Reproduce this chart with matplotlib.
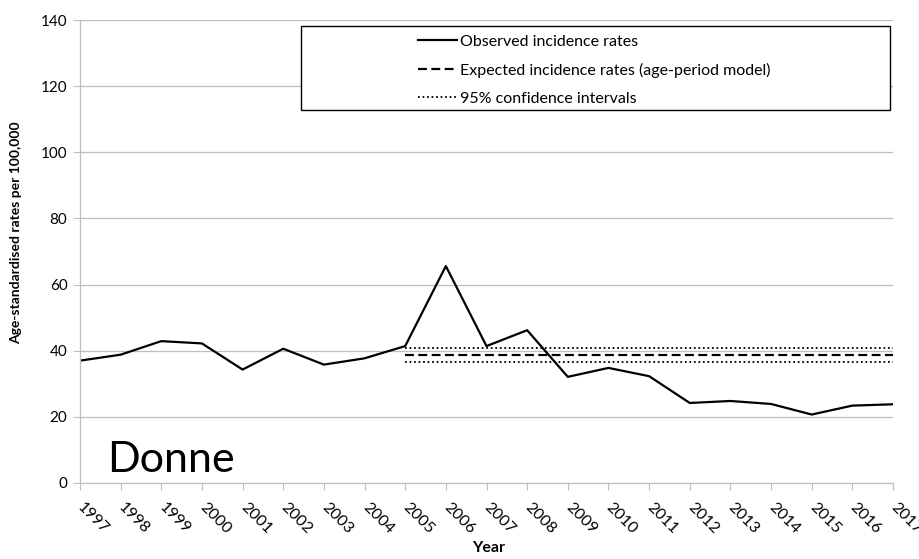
import matplotlib
matplotlib.use('Agg')
import matplotlib.pyplot as plt
from matplotlib.lines import Line2D
from matplotlib.patches import Rectangle

plt.rcParams['font.family'] = ['Lato', 'DejaVu Sans']

# dati
years = list(range(1997, 2018))
observed = [37.0, 38.8, 42.9, 42.2, 34.3, 40.6, 35.8, 37.7, 41.4, 65.6, 41.4,
            46.2, 32.1, 34.8, 32.3, 24.2, 24.8, 23.9, 20.7, 23.4, 23.8]
exp_years = list(range(2005, 2018))
expected = [38.7] * len(exp_years)
ci_upper = [40.8] * len(exp_years)
ci_lower = [36.5] * len(exp_years)

legend_labels = ['Observed incidence rates',
                 'Expected incidence rates (age-period model)',
                 '95% confidence intervals']

grid_col = '#BEBEBE'

fig = plt.figure(figsize=(9.2, 5.59), dpi=100)
ax = fig.add_axes([80 / 920, (559 - 483) / 559, 813 / 920, 463 / 559])

ax.plot(years, observed, color='black', lw=1.6)
ax.plot(exp_years, expected, color='black', lw=1.6, ls=(0, (4, 2)))
ax.plot(exp_years, ci_upper, color='black', lw=1.3, ls=(0, (1, 1.5)))
ax.plot(exp_years, ci_lower, color='black', lw=1.3, ls=(0, (1, 1.5)))

ax.set_xlim(1997, 2017)
ax.set_ylim(0, 140)
ax.set_yticks(range(0, 141, 20))
ax.set_xticks(years)
ax.set_xticklabels([str(y) for y in years], rotation=-45, ha='left', va='center',
                   rotation_mode='anchor', fontsize=11.5)
ax.tick_params(axis='x', length=5, color=grid_col, pad=11)
ax.tick_params(axis='y', length=5, color=grid_col, labelsize=11, pad=4)
ax.grid(axis='y', color=grid_col, lw=0.9)
ax.set_axisbelow(True)
for s in ['top', 'right']:
    ax.spines[s].set_visible(False)
for s in ['left', 'bottom']:
    ax.spines[s].set_color(grid_col)
    ax.spines[s].set_linewidth(0.9)

ax.set_ylabel('Age-standardised rates per 100,000', fontsize=10, fontweight='bold')
ax.yaxis.set_label_coords(-0.071, 0.54)
ax.set_xlabel('Year', fontsize=11.5, fontweight='bold')
ax.xaxis.set_label_coords(0.503, -0.125)

ax.text(1997.66, 3.3, 'Donne', fontsize=31, va='baseline', ha='left')

# riquadro legenda
ax.add_patch(Rectangle((0.272, 0.806), 0.7245, 0.181, transform=ax.transAxes,
                       facecolor='white', edgecolor='black', lw=1.0, zorder=5))
handles = [Line2D([], [], color='black', lw=1.6),
           Line2D([], [], color='black', lw=1.6, ls=(0, (4, 2))),
           Line2D([], [], color='black', lw=1.3, ls=(0, (1, 1.5)))]
leg = ax.legend(handles, legend_labels, loc='upper left', bbox_to_anchor=(0.416, 0.969),
                frameon=False, fontsize=11.5, handlelength=2.45, handletextpad=0.15,
                labelspacing=0.875, borderpad=0, borderaxespad=0)
leg.set_zorder(6)

plt.savefig('out.png', dpi=100)
